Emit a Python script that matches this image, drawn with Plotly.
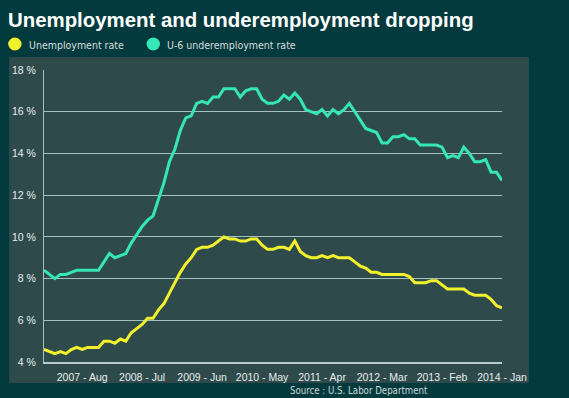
import plotly.graph_objects as go

months = ["Jan", "Feb", "Mar", "Apr", "May", "Jun", "Jul", "Aug", "Sep", "Oct", "Nov", "Dec"]
periods = [f"{y} - {m}" for y in range(2007, 2014) for m in months] + ["2014 - Jan"]

unemployment = [
    4.6, 4.5, 4.4, 4.5, 4.4, 4.6, 4.7, 4.6, 4.7, 4.7, 4.7, 5.0,
    5.0, 4.9, 5.1, 5.0, 5.4, 5.6, 5.8, 6.1, 6.1, 6.5, 6.8, 7.3,
    7.8, 8.3, 8.7, 9.0, 9.4, 9.5, 9.5, 9.6, 9.8, 10.0, 9.9, 9.9,
    9.8, 9.8, 9.9, 9.9, 9.6, 9.4, 9.4, 9.5, 9.5, 9.4, 9.8, 9.3,
    9.1, 9.0, 9.0, 9.1, 9.0, 9.1, 9.0, 9.0, 9.0, 8.8, 8.6, 8.5,
    8.3, 8.3, 8.2, 8.2, 8.2, 8.2, 8.2, 8.1, 7.8, 7.8, 7.8, 7.9,
    7.9, 7.7, 7.5, 7.5, 7.5, 7.5, 7.3, 7.2, 7.2, 7.2, 7.0, 6.7,
    6.6,
]
underemployment = [
    8.4, 8.2, 8.0, 8.2, 8.2, 8.3, 8.4, 8.4, 8.4, 8.4, 8.4, 8.8,
    9.2, 9.0, 9.1, 9.2, 9.7, 10.1, 10.5, 10.8, 11.0, 11.8, 12.6, 13.6,
    14.2, 15.1, 15.7, 15.8, 16.4, 16.5, 16.4, 16.7, 16.7, 17.1, 17.1, 17.1,
    16.7, 17.0, 17.1, 17.1, 16.6, 16.4, 16.4, 16.5, 16.8, 16.6, 16.9, 16.6,
    16.1, 16.0, 15.9, 16.1, 15.8, 16.1, 15.9, 16.1, 16.4, 16.0, 15.6, 15.2,
    15.1, 15.0, 14.5, 14.5, 14.8, 14.8, 14.9, 14.7, 14.7, 14.4, 14.4, 14.4,
    14.4, 14.3, 13.8, 13.9, 13.8, 14.3, 14.0, 13.6, 13.6, 13.7, 13.1, 13.1,
    12.7,
]
x_tick_labels = ["2007 - Aug", "2008 - Jul", "2009 - Jun", "2010 - May",
                 "2011 - Apr", "2012 - Mar", "2013 - Feb", "2014 - Jan"]
y_ticks = [4, 6, 8, 10, 12, 14, 16, 18]
series_names = ["Unemployment rate", "U-6 underemployment rate"]

OUTER = "#033a3d"
PANEL = "#2f4a4b"
GRID = "#a6bfbf"
YELLOW = "#f2f22c"
TEAL = "#35e6b6"
W, H = 569, 398
ML, MR, MT, MB = 42, 67, 70, 36
PW, PH = W - ML - MR, H - MT - MB

def px(x):
    return (x - ML) / PW

def py(y):
    return (H - MB - y) / PH

fig = go.Figure()
fig.add_trace(go.Scatter(x=periods, y=underemployment, mode="lines",
                         line=dict(color=TEAL, width=3), name=series_names[1],
                         showlegend=False))
fig.add_trace(go.Scatter(x=periods, y=unemployment, mode="lines",
                         line=dict(color=YELLOW, width=3), name=series_names[0],
                         showlegend=False))

shapes = [
    dict(type="rect", xref="paper", yref="paper", x0=px(7), x1=px(529),
         y0=py(383), y1=py(57), fillcolor=PANEL, line=dict(width=0), layer="below"),
    dict(type="circle", xref="paper", yref="paper", x0=px(6), x1=px(19.5),
         y0=py(50.5), y1=py(37.5), fillcolor=YELLOW, line=dict(width=0)),
    dict(type="circle", xref="paper", yref="paper", x0=px(145), x1=px(158.5),
         y0=py(50.5), y1=py(37.5), fillcolor=TEAL, line=dict(width=0)),
]

legend_font = dict(family="DejaVu Sans Condensed, Liberation Sans, sans-serif",
                   size=10.5, color="#d8dede")
annotations = [
    dict(text="<b>Unemployment and underemployment dropping</b>", xref="paper",
         yref="paper", x=px(3.5), y=py(20), xanchor="left", yanchor="middle",
         showarrow=False,
         font=dict(family="Liberation Sans, Arial, sans-serif", size=20.4, color="white")),
    dict(text=series_names[0], xref="paper", yref="paper", x=px(24.5), y=py(44.5),
         xanchor="left", yanchor="middle", showarrow=False, font=legend_font),
    dict(text=series_names[1], xref="paper", yref="paper", x=px(163.5), y=py(44.5),
         xanchor="left", yanchor="middle", showarrow=False, font=legend_font),
    dict(text="Source : U.S. Labor Department", xref="paper", yref="paper",
         x=px(358), y=py(390.5), xanchor="center", yanchor="middle",
         showarrow=False,
         font=dict(family="DejaVu Sans Condensed, Liberation Sans, sans-serif",
                   size=9.6, color="#d0d8d8")),
]

fig.update_layout(
    width=W, height=H,
    margin=dict(l=ML, r=MR, t=MT, b=MB, pad=0),
    paper_bgcolor=OUTER, plot_bgcolor=PANEL,
    shapes=shapes, annotations=annotations, showlegend=False,
    xaxis=dict(type="category", range=[0, len(periods) - 1],
               tickmode="array", tickvals=x_tick_labels, ticktext=x_tick_labels,
               showgrid=False, zeroline=False, showline=True, linecolor="#b8cccc",
               linewidth=2, ticks="", ticklabelstandoff=4,
               tickfont=dict(family="Liberation Sans, Arial, sans-serif", size=10.5,
                             color="#e6eeee")),
    yaxis=dict(range=[4, 18], tickmode="array", tickvals=y_ticks,
               ticktext=[f"{v} %" for v in y_ticks],
               showgrid=True, gridcolor=GRID, gridwidth=1, zeroline=False,
               showline=True, linecolor=GRID, linewidth=1, ticks="",
               ticklabelstandoff=5,
               tickfont=dict(family="Liberation Sans, Arial, sans-serif", size=10.5,
                             color="#e6eeee")),
)

fig.write_html(
    "out.html",
    config={"displayModeBar": False},
    post_script="document.body.style.margin='0';document.body.style.background='#033a3d';",
)
